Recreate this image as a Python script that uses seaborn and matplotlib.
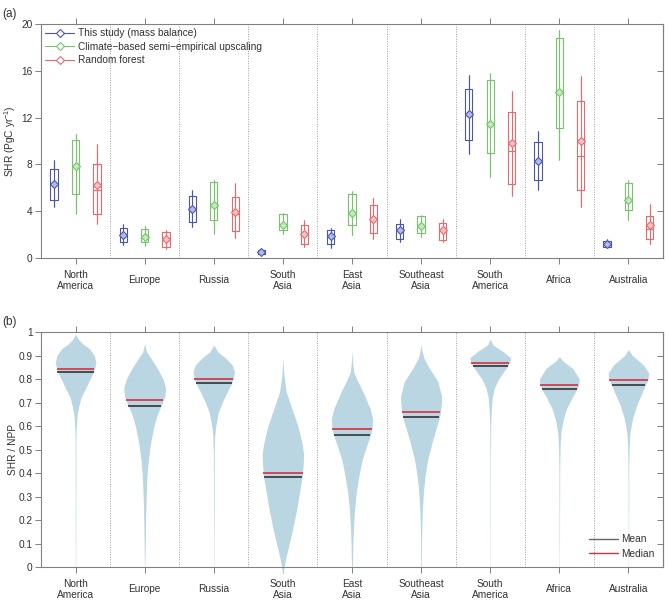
import numpy as np
import pandas as pd
import matplotlib
matplotlib.use("Agg")
import matplotlib.pyplot as plt
import seaborn as sns
from matplotlib.lines import Line2D

# DATA
regions = ["North\nAmerica", "Europe", "Russia", "South\nAsia", "East\nAsia",
           "Southeast\nAsia", "South\nAmerica", "Africa", "Australia"]
methods = ["This study (mass balance)",
           "Climate\u2212based semi\u2212empirical upscaling",
           "Random forest"]

# panel (a): whisker low, box low, median, box high, whisker high, mean (PgC/yr)
mb_low = [4.37, 1.08, 2.65, 0.23, 0.88, 1.37, 8.93, 5.79, 0.86]
mb_q1 = [5.0, 1.37, 3.08, 0.31, 1.23, 1.65, 10.13, 6.65, 0.94]
mb_med = [6.36, 2.0, 4.22, 0.51, 1.85, 2.42, 12.3, 8.27, 1.23]
mb_q3 = [7.65, 2.57, 5.28, 0.71, 2.37, 2.88, 14.49, 9.93, 1.46]
mb_high = [8.36, 2.88, 5.85, 0.8, 2.57, 3.37, 15.63, 10.87, 1.6]
mb_mean = [6.36, 2.0, 4.22, 0.51, 1.85, 2.42, 12.3, 8.27, 1.23]

cb_low = [3.8, 1.0, 2.08, 2.08, 1.94, 1.8, 6.93, 8.36, 3.22]
cb_q1 = [5.5, 1.37, 3.22, 2.37, 2.85, 2.17, 9.02, 11.13, 4.08]
cb_med = [7.85, 1.8, 4.5, 2.85, 3.85, 2.77, 11.5, 14.21, 4.99]
cb_q3 = [10.13, 2.5, 6.5, 3.8, 5.5, 3.57, 15.21, 18.83, 6.42]
cb_high = [10.64, 2.7, 6.7, 3.85, 5.73, 3.65, 15.83, 19.49, 6.65]
cb_mean = [7.85, 1.8, 4.5, 2.85, 3.85, 2.77, 11.5, 14.21, 4.99]

rf_low = [2.88, 0.8, 1.74, 0.94, 1.65, 1.37, 5.28, 4.37, 1.23]
rf_q1 = [3.8, 0.94, 2.31, 1.23, 2.17, 1.57, 6.36, 5.79, 1.65]
rf_med = [5.8, 1.6, 3.8, 2.08, 3.37, 2.42, 9.16, 8.73, 2.45]
rf_q3 = [8.0, 2.2, 5.22, 2.8, 4.5, 3.02, 12.5, 13.41, 3.57]
rf_high = [9.73, 2.42, 6.42, 3.28, 5.16, 3.37, 14.29, 15.55, 4.59]
rf_mean = [6.28, 1.6, 3.94, 2.08, 3.37, 2.42, 9.84, 9.99, 2.8]

# panel (b): SHR/NPP distributions, half-width profiles
vio_y = [
    [0.0, 0.55, 0.60, 0.65, 0.68, 0.72, 0.76, 0.80, 0.83, 0.87, 0.90, 0.93, 0.95, 0.97, 0.99],
    [0.0, 0.04, 0.11, 0.18, 0.25, 0.32, 0.39, 0.46, 0.53, 0.60, 0.65, 0.685, 0.725, 0.76, 0.80, 0.845, 0.89, 0.915, 0.95],
    [0.0, 0.49, 0.56, 0.60, 0.66, 0.70, 0.745, 0.78, 0.80, 0.83, 0.86, 0.89, 0.915, 0.945],
    [-0.03, 0.04, 0.11, 0.18, 0.25, 0.32, 0.385, 0.44, 0.48, 0.53, 0.60, 0.675, 0.745, 0.82, 0.89],
    [0.0, 0.04, 0.11, 0.18, 0.25, 0.32, 0.39, 0.46, 0.52, 0.56, 0.59, 0.63, 0.675, 0.745, 0.80, 0.83, 0.87, 0.92],
    [0.0, 0.11, 0.18, 0.25, 0.32, 0.39, 0.46, 0.53, 0.59, 0.637, 0.66, 0.70, 0.73, 0.79, 0.845, 0.89, 0.925, 0.95],
    [0.0, 0.45, 0.60, 0.66, 0.72, 0.76, 0.80, 0.83, 0.855, 0.87, 0.89, 0.915, 0.945, 0.97],
    [0.0, 0.43, 0.52, 0.575, 0.63, 0.675, 0.72, 0.757, 0.775, 0.80, 0.845, 0.875, 0.895],
    [0.0, 0.43, 0.52, 0.575, 0.63, 0.69, 0.745, 0.775, 0.795, 0.825, 0.86, 0.90, 0.925],
]
vio_hw = [
    [0.003, 0.006, 0.012, 0.024, 0.043, 0.077, 0.145, 0.208, 0.261, 0.295, 0.27, 0.198, 0.101, 0.039, 0.0],
    [0.002, 0.005, 0.009, 0.012, 0.017, 0.024, 0.034, 0.055, 0.087, 0.135, 0.184, 0.237, 0.29, 0.304, 0.266, 0.184, 0.087, 0.029, 0.0],
    [0.002, 0.007, 0.014, 0.029, 0.068, 0.121, 0.193, 0.256, 0.28, 0.3, 0.266, 0.169, 0.058, 0.0],
    [0.0, 0.043, 0.101, 0.155, 0.203, 0.242, 0.28, 0.295, 0.3, 0.275, 0.217, 0.13, 0.048, 0.014, 0.0],
    [0.005, 0.01, 0.014, 0.024, 0.039, 0.063, 0.101, 0.15, 0.217, 0.266, 0.29, 0.3, 0.261, 0.159, 0.068, 0.024, 0.01, 0.0],
    [0.005, 0.007, 0.012, 0.019, 0.034, 0.058, 0.097, 0.159, 0.217, 0.266, 0.28, 0.295, 0.295, 0.242, 0.121, 0.039, 0.01, 0.0],
    [0.002, 0.004, 0.007, 0.014, 0.029, 0.058, 0.121, 0.193, 0.251, 0.28, 0.295, 0.193, 0.039, 0.0],
    [0.002, 0.006, 0.012, 0.024, 0.058, 0.106, 0.184, 0.256, 0.28, 0.29, 0.193, 0.058, 0.0],
    [0.002, 0.006, 0.012, 0.024, 0.058, 0.121, 0.203, 0.246, 0.28, 0.295, 0.217, 0.058, 0.0],
]
ratio_mean = [0.831, 0.685, 0.782, 0.384, 0.562, 0.637, 0.855, 0.757, 0.774]
ratio_median = [0.844, 0.71, 0.801, 0.399, 0.586, 0.658, 0.868, 0.773, 0.794]

# STYLE
colors = ["#4a56ad", "#77c46c", "#e8696b"]
light = ["#b4bbe3", "#c6e8c0", "#f6c3c3"]
vio_color = "#b9d6e2"
spine_c = "#808080"
text_c = "#333333"

sns.set_style("ticks")
plt.rcParams["font.family"] = ["Liberation Sans", "DejaVu Sans"]
plt.rcParams["font.size"] = 7.3
plt.rcParams["text.color"] = text_c
plt.rcParams["axes.labelcolor"] = text_c
plt.rcParams["xtick.color"] = spine_c
plt.rcParams["ytick.color"] = spine_c
plt.rcParams["xtick.labelcolor"] = text_c
plt.rcParams["ytick.labelcolor"] = text_c

fig = plt.figure(figsize=(6.69, 6.03), dpi=100)
ax1 = fig.add_axes([0.0613, 0.572, 0.9297, 0.388])
ax2 = fig.add_axes([0.0613, 0.0597, 0.9297, 0.3897])

# PANEL (a)
stats = [
    (mb_low, mb_q1, mb_med, mb_q3, mb_high),
    (cb_low, cb_q1, cb_med, cb_q3, cb_high),
    (rf_low, rf_q1, rf_med, rf_q3, rf_high),
]
means = [mb_mean, cb_mean, rf_mean]

rows = []
for m, cols in enumerate(stats):
    for i, r in enumerate(regions):
        for col in cols:
            rows.append((r, methods[m], col[i]))
df = pd.DataFrame(rows, columns=["region", "method", "shr"])

sns.boxplot(data=df, x="region", y="shr", hue="method", order=regions,
            hue_order=methods, palette=colors, whis=(0, 100), fill=False,
            width=0.93, gap=0.66, linewidth=0.8, capprops={"visible": False},
            legend=False, ax=ax1)

offsets = [-0.31, 0.0, 0.31]
xs = np.arange(len(regions))
for m in range(3):
    ax1.vlines(xs + offsets[m], stats[m][0], stats[m][4], color=colors[m], lw=0.8, zorder=1)
    ax1.plot(xs + offsets[m], means[m], ls="none", marker="D", ms=3.8,
             mfc=light[m], mec=colors[m], mew=0.8, zorder=3)

ax1.set_ylim(0, 20)
ax1.set_yticks([0, 4, 8, 12, 16, 20])
ax1.set_ylabel("SHR (PgC yr$^{\\mathregular{-1}}$)")

handles = [Line2D([], [], color=colors[m], lw=0.8, marker="D", ms=3.8,
                  mfc="white", mec=colors[m], mew=0.8) for m in range(3)]
ax1.legend(handles, methods, loc="upper left", frameon=False, fontsize=7.3,
           handlelength=2.9, handletextpad=0.35, labelspacing=0.35,
           borderaxespad=0.1, borderpad=0.3)

# PANEL (b)
for i in range(len(regions)):
    y = np.array(vio_y[i])
    hw = np.array(vio_hw[i])
    ax2.fill_betweenx(y, i - hw, i + hw, color=vio_color, lw=0, clip_on=False, zorder=1)
    w = np.interp(ratio_median[i], y, hw)
    ax2.hlines(ratio_median[i], i - w, i + w, color="#d9303c", lw=1.2, zorder=3)
    w = np.interp(ratio_mean[i], y, hw)
    ax2.hlines(ratio_mean[i], i - w, i + w, color="#333333", lw=1.2, zorder=3)

ax2.set_ylim(0, 1)
ax2.set_yticks(np.round(np.arange(0, 1.01, 0.1), 1))
ax2.set_yticklabels(["0", "0.1", "0.2", "0.3", "0.4", "0.5", "0.6", "0.7", "0.8", "0.9", "1"])
ax2.set_ylabel("SHR / NPP")
leg_h = [Line2D([], [], color="#666666", lw=1.0), Line2D([], [], color="#d9303c", lw=1.0)]
ax2.legend(leg_h, ["Mean", "Median"], loc="lower right", frameon=False, fontsize=7.3,
           handlelength=2.9, handletextpad=0.3, labelspacing=0.45,
           borderaxespad=0.4)

# COMMON AXES STYLE
for ax in (ax1, ax2):
    ax.set_xlim(-0.5, len(regions) - 0.5)
    ax.set_xticks(xs)
    ax.set_xticklabels(regions, va="center", linespacing=1.1)
    ax.set_xlabel("")
    for k in range(len(regions) - 1):
        ax.axvline(k + 0.5, color="#a0a0a0", ls=(0, (1, 1.5)), lw=0.7, zorder=0)
    for s in ax.spines.values():
        s.set_visible(True)
        s.set_color(spine_c)
        s.set_linewidth(0.8)
    ax.tick_params(axis="x", top=True, direction="out", length=4, width=0.7, pad=12)
    ax.tick_params(axis="y", left=True, direction="out", length=4, width=0.7, pad=2)
    sec = ax.secondary_yaxis("right")
    sec.set_yticks(ax.get_yticks())
    sec.tick_params(direction="in", length=4, width=0.7, labelright=False, color=spine_c)
    sec.spines["right"].set_color(spine_c)
    ax.yaxis.set_label_coords(-0.037, 0.5)

fig.text(0.003, 0.987, "(a)", fontsize=8.5, va="top")
fig.text(0.003, 0.476, "(b)", fontsize=8.5, va="top")

fig.savefig("out.png", dpi=100)
